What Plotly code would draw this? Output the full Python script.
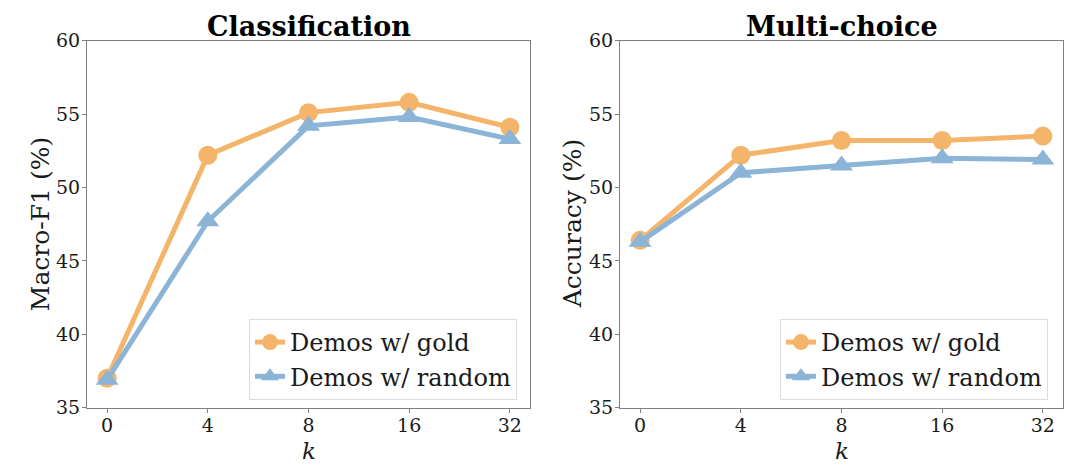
import plotly.graph_objects as go

k_labels = ["0", "4", "8", "16", "32"]
cls_gold = [37.0, 52.2, 55.1, 55.8, 54.1]
cls_random = [36.9, 47.7, 54.2, 54.8, 53.3]
mc_gold = [46.4, 52.2, 53.2, 53.2, 53.5]
mc_random = [46.3, 51.0, 51.5, 52.0, 51.9]
y_ticks = [35, 40, 45, 50, 55, 60]

GOLD = "#F4B56B"
BLUE = "#8BB4D6"
FONT = "DejaVu Serif"
idx = list(range(len(k_labels)))

# page body has an 8px margin: build the figure on the visible area
OFF = 8
W, H = 1080 - OFF, 468 - OFF
def px(x):
    return (x - OFF) / W
def py(y):
    return 1 - (y - OFF) / H

fig = go.Figure()

def add_pair(gold, rnd, xa, ya, leg):
    fig.add_trace(go.Scatter(
        x=idx, y=gold, mode="lines+markers", name="Demos w/ gold",
        line=dict(color=GOLD, width=5), marker=dict(symbol="circle", size=19, color=GOLD),
        xaxis=xa, yaxis=ya, legend=leg))
    fig.add_trace(go.Scatter(
        x=idx, y=rnd, mode="lines+markers", name="Demos w/ random",
        line=dict(color=BLUE, width=5), marker=dict(symbol="triangle-up", size=20, color=BLUE),
        xaxis=xa, yaxis=ya, legend=leg))

add_pair(cls_gold, cls_random, "x", "y", "legend")
add_pair(mc_gold, mc_random, "x2", "y2", "legend2")

axis_common = dict(
    showline=True, mirror=True, linecolor="#7f7f7f", linewidth=1.2,
    ticks="outside", ticklen=4, tickwidth=1.2, tickcolor="#7f7f7f",
    showgrid=False, zeroline=False, automargin=False,
    tickfont=dict(family=FONT, size=19, color="#1a1a1a"),
)

ydom = [py(407.7), py(40.7)]
xdom1 = [px(87), px(530)]
xdom2 = [px(620), px(1063)]

xa = dict(axis_common, tickmode="array", tickvals=idx, ticktext=k_labels,
          range=[-0.2, 4.2], ticklabelstandoff=-4)
ya = dict(axis_common, tickmode="array", tickvals=y_ticks, range=[35, 60],
          ticklabelstandoff=-2)

leg_common = dict(xanchor="right", yanchor="bottom", y=py(400),
                  bgcolor="white", bordercolor="#dcdcdc", borderwidth=1,
                  font=dict(family=FONT, size=24, color="#1a1a1a"),
                  itemsizing="trace", tracegroupgap=0)

fig.update_layout(
    width=W, height=H,
    margin=dict(l=0, r=0, t=0, b=0, autoexpand=False),
    paper_bgcolor="white", plot_bgcolor="white",
    font=dict(family=FONT, color="#1a1a1a"),
    xaxis=dict(xa, domain=xdom1, anchor="y"),
    yaxis=dict(ya, domain=ydom, anchor="x"),
    xaxis2=dict(xa, domain=xdom2, anchor="y2"),
    yaxis2=dict(ya, domain=ydom, anchor="x2"),
    legend=dict(leg_common, x=px(517)),
    legend2=dict(leg_common, x=px(1048)),
    showlegend=True,
)

ymid = (ydom[0] + ydom[1]) / 2
for name, ylab, dom, ylab_x in (("Classification", "Macro-F1 (%)", xdom1, 40),
                                ("Multi-choice", "Accuracy (%)", xdom2, 572)):
    cx = (dom[0] + dom[1]) / 2
    fig.add_annotation(
        text=f"<b>{name}</b>", xref="paper", yref="paper",
        x=cx, y=ydom[1], xanchor="center", yanchor="bottom",
        yshift=-3, showarrow=False,
        font=dict(family=FONT, size=27, color="#000000"))
    fig.add_annotation(
        text="<i>k</i>", xref="paper", yref="paper",
        x=cx, y=py(436), xanchor="center", yanchor="top",
        showarrow=False,
        font=dict(family=FONT, size=23, color="#1a1a1a"))
    fig.add_annotation(
        text=ylab, xref="paper", yref="paper", textangle=-90,
        x=px(ylab_x), y=ymid, xanchor="center", yanchor="middle",
        showarrow=False,
        font=dict(family=FONT, size=25, color="#1a1a1a"))

fig.write_html("out.html")
